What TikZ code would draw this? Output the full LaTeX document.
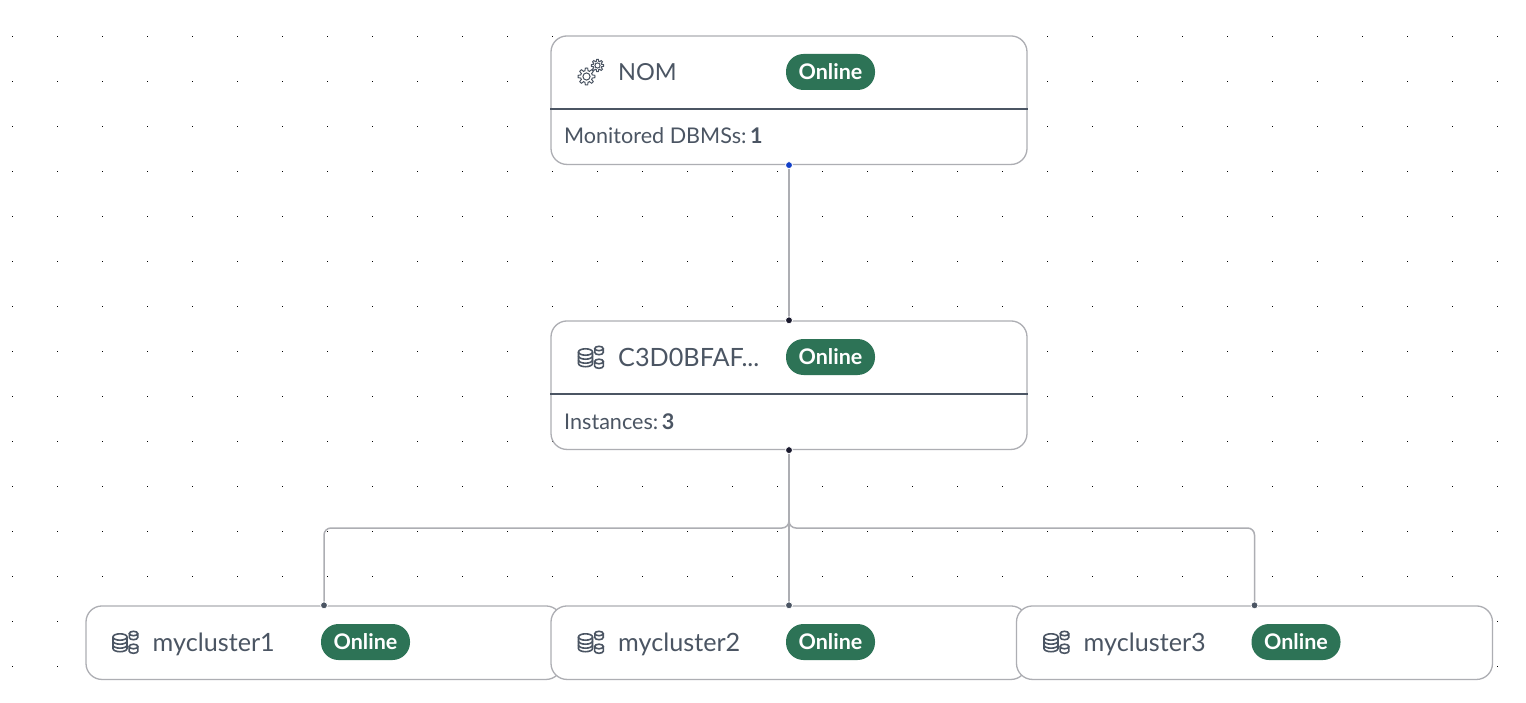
\documentclass[tikz,border=0pt]{standalone}
\usepackage{fontspec}
\setmainfont{Lato}
\definecolor{inkc}{HTML}{4B5563}
\definecolor{edgec}{HTML}{ADAEB3}
\definecolor{greenc}{HTML}{2D7356}
\definecolor{blueh}{HTML}{1240C8}
\definecolor{darkh}{HTML}{1A1A2E}
\tikzset{
  x=1pt,y=-1pt,
  griddot/.style={fill=black,inner sep=0pt,minimum size=1.5pt,rectangle},
  card/.style={draw=edgec,fill=white,line width=1.3pt,rounded corners=16pt,inner sep=0pt,minimum width=476pt},
  tallcard/.style={card,minimum height=128.5pt},
  lowcard/.style={card,minimum height=73.5pt},
  divider/.style={draw=inkc,line width=1.6pt},
  badge/.style={fill=greenc,text=white,rounded corners=17.5pt,inner sep=0pt,minimum width=89pt,minimum height=36pt,font=\fontsize{21.5}{24}\bfseries\selectfont},
  title/.style={anchor=base west,text=inkc,inner sep=0pt,font=\fontsize{25.2}{28}\selectfont},
  nomtitle/.style={title,font=\fontsize{23.5}{28}\selectfont},
  info/.style={anchor=base west,text=inkc,inner sep=0pt,font=\fontsize{21.6}{24}\selectfont},
  conn/.style={draw=edgec,line width=1.5pt,rounded corners=7pt},
  handle/.style={circle,inner sep=0pt,minimum size=7pt,draw=white,line width=.8pt},
  icon/.style={draw=inkc,line width=1.6pt},
  pics/gear/.style={code={
    \draw[draw=inkc,line width=1pt] plot[samples=97,domain=0:360] (\x:{#1*(0.85+0.15*sign(cos(8*\x)))}) -- cycle;
    \draw[draw=inkc,line width=1pt] (0,0) circle[radius=#1*0.42pt];
  }},
  pics/dbstack/.style={code={
    \draw[icon] (7,6.5) ellipse[x radius=7pt,y radius=3.2pt];
    \draw[icon] (0,6.5) -- (0,18) arc[start angle=180,end angle=360,x radius=7pt,y radius=3.2pt] -- (14,6.5);
    \draw[icon] (0,10.5) arc[start angle=180,end angle=360,x radius=7pt,y radius=3.2pt];
    \draw[icon] (0,14.5) arc[start angle=180,end angle=360,x radius=7pt,y radius=3.2pt];
    \draw[icon,fill=white] (20.5,3) ellipse[x radius=4.2pt,y radius=2.2pt];
    \draw[icon] (16.3,3) -- (16.3,7) arc[start angle=180,end angle=360,x radius=4.2pt,y radius=2.2pt] -- (24.7,3);
    \draw[icon,fill=white] (20.5,16) ellipse[x radius=4.4pt,y radius=2.3pt];
    \draw[icon] (16.1,16) -- (16.1,20.5) arc[start angle=180,end angle=360,x radius=4.4pt,y radius=2.3pt] -- (24.9,16);
  }},
}
\begin{document}
\begin{tikzpicture}
\useasboundingbox[fill=white] (0,0) rectangle (1526,703);
% dotted background
\foreach \i in {0,...,33}{
  \foreach \j in {0,...,14}{
    \node[griddot] at ({12.5+45*\i},{36.5+45*\j}) {};
  }
}
% cards
\node[tallcard] (nom) at (789,100.2) {};
\node[tallcard] (dbc) at (789,385.2) {};
\node[lowcard] (c1) at (324,642.7) {};
\node[lowcard] (c2) at (789,642.7) {};
\node[lowcard] (c3) at (1254.5,642.7) {};
\draw[divider] ([yshift=-9pt]nom.west) -- ([yshift=-9pt]nom.east);
\draw[divider] ([yshift=-8.8pt]dbc.west) -- ([yshift=-8.8pt]dbc.east);
% titles
\pic at (586.5,76.5) {gear=8.5};
\pic at (597.5,65.5) {gear=6.2};
\node[nomtitle] (nomt) at (618,80.5) {NOM};
\node[badge] (nomb) at (830.5,72) {Online};
\node[info] (nomi) at (564,144) {Monitored DBMSs:\,\textbf{1}};
\pic at (578.5,345.5) {dbstack};
\node[title] (dbct) at (618,366) {C3D0BFAF...};
\node[badge] (dbcb) at (830.5,357) {Online};
\node[info] (dbci) at (564,429) {Instances:\,\textbf{3}};
\pic at (113,630.5) {dbstack};
\node[title] (c1t) at (152.5,651) {mycluster1};
\node[badge] (c1b) at (365.5,642) {Online};
\pic at (578.5,630.5) {dbstack};
\node[title] (c2t) at (618,651) {mycluster2};
\node[badge] (c2b) at (830.5,642) {Online};
\pic at (1044,630.5) {dbstack};
\node[title] (c3t) at (1083.5,651) {mycluster3};
\node[badge] (c3b) at (1296,642) {Online};
% connectors
\coordinate (bus) at (789,528);
\draw[conn] (nom.south) -- (dbc.north);
\draw[conn] (dbc.south) -- (c2.north);
\draw[conn] (dbc.south) -- (bus) -| (c1.north);
\draw[conn] (dbc.south) -- (bus) -| (c3.north);
% handles
\node[handle,fill=blueh] (h1) at (nom.south) {};
\node[handle,fill=darkh] (h2) at (dbc.north) {};
\node[handle,fill=darkh] (h3) at (dbc.south) {};
\node[handle,fill=inkc] (h4) at (c1.north) {};
\node[handle,fill=inkc] (h5) at (c2.north) {};
\node[handle,fill=inkc] (h6) at (c3.north) {};
\end{tikzpicture}
\end{document}
